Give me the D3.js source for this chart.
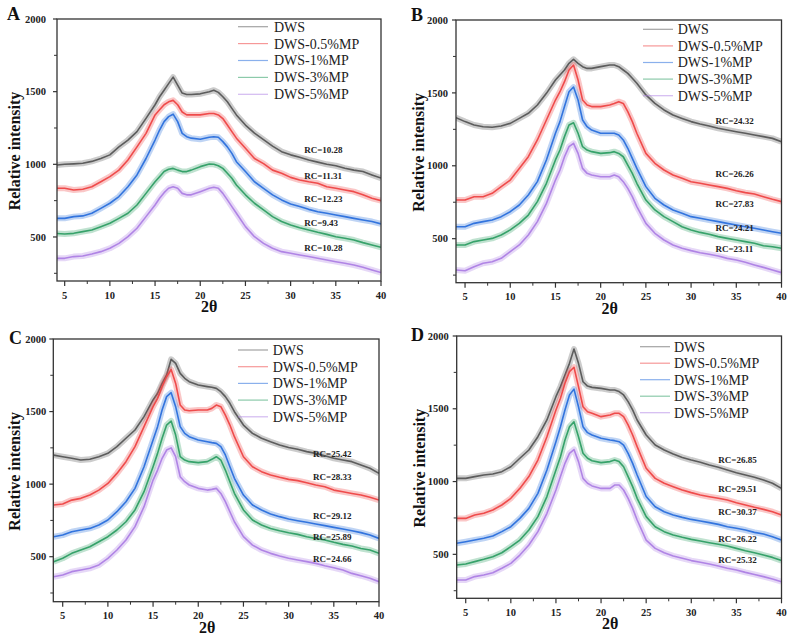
<!DOCTYPE html>
<html><head><meta charset="utf-8">
<script src="https://cdn.jsdelivr.net/npm/d3@7"></script>
<style>body{margin:0;background:#fff}svg{display:block}</style>
</head><body>
<svg id="chart" width="790" height="637"></svg>
<script>
// ---- data ----
const seriesNames = ["DWS","DWS-0.5%MP","DWS-1%MP","DWS-3%MP","DWS-5%MP"];
const seriesColors = ["#555555","#ee4444","#2a6fdc","#2e9e64","#ad7fe4"];
const twoTheta = [4,5,6,7,8,9,10,11,12,13,14,15,15.5,16,16.5,17,17.5,18,18.5,19,20,21,21.5,22,22.5,23,23.5,24,25,26,27,28,29,30,31,32,33,34,35,36,37,38,39,40];
const xTicks = [5,10,15,20,25,30,35,40];
const yTicks = [500,1000,1500,2000];

const panelA = [
 [995,1000,1003,1007,1020,1040,1065,1120,1167,1225,1316,1410,1465,1510,1555,1600,1545,1490,1480,1480,1485,1500,1510,1495,1465,1430,1385,1340,1270,1215,1170,1125,1087,1065,1048,1030,1015,1000,990,973,960,950,927,905],
 [835,835,823,828,846,880,915,960,1030,1120,1213,1340,1375,1410,1430,1440,1410,1360,1340,1340,1340,1350,1350,1340,1315,1270,1225,1180,1110,1040,1005,960,938,910,892,880,870,846,835,823,812,790,766,750],
 [628,628,640,645,663,697,732,778,846,927,1040,1167,1236,1294,1328,1345,1294,1213,1190,1180,1172,1186,1190,1186,1156,1120,1075,1018,950,880,835,790,755,727,710,690,674,663,651,640,628,617,606,590],
 [525,520,525,537,548,571,594,628,663,720,800,880,915,950,966,972,960,950,950,960,984,1002,1000,990,972,938,904,858,790,732,686,640,606,583,564,548,532,518,502,491,479,461,445,429],
 [353,353,365,369,383,399,422,456,502,560,640,720,766,805,835,846,835,800,790,790,812,835,842,835,800,755,709,663,571,502,456,422,399,388,376,365,353,342,330,319,307,291,273,255]
];
const panelB = [
 [1330,1303,1280,1268,1264,1273,1291,1325,1360,1417,1497,1588,1623,1657,1703,1730,1703,1680,1668,1668,1680,1691,1691,1680,1657,1634,1600,1566,1486,1428,1383,1348,1325,1303,1287,1273,1257,1245,1234,1223,1211,1200,1188,1165],
 [765,765,788,788,811,857,902,982,1062,1177,1314,1451,1508,1577,1657,1691,1588,1451,1417,1406,1406,1417,1428,1440,1428,1371,1303,1223,1085,1017,971,937,914,891,880,868,857,845,829,816,806,788,770,754],
 [582,582,605,617,628,651,685,731,800,891,1040,1223,1303,1406,1508,1540,1451,1314,1268,1245,1223,1223,1223,1211,1177,1120,1051,982,857,777,731,697,674,651,640,628,617,605,594,582,571,560,548,537],
 [457,457,480,491,502,525,560,605,662,754,880,1040,1108,1200,1280,1295,1223,1131,1108,1097,1085,1090,1097,1085,1062,1005,948,880,765,697,651,617,582,560,543,530,514,502,491,480,468,452,445,434],
 [285,280,308,331,342,365,411,457,525,617,742,902,971,1062,1131,1154,1085,982,948,937,925,925,937,925,891,845,788,720,605,537,491,457,434,418,404,393,381,365,354,338,320,303,285,267]
];
const panelC = [
 [1200,1189,1178,1166,1171,1189,1212,1258,1316,1373,1465,1580,1626,1694,1752,1860,1832,1763,1729,1706,1683,1672,1667,1660,1637,1603,1557,1499,1407,1350,1316,1292,1270,1253,1240,1224,1212,1196,1178,1166,1155,1132,1109,1074],
 [856,863,890,902,925,959,1005,1074,1155,1258,1396,1534,1591,1672,1740,1790,1694,1545,1511,1506,1511,1511,1522,1545,1534,1476,1407,1327,1189,1120,1086,1063,1047,1033,1024,1010,994,982,959,948,936,925,909,890],
 [638,649,672,684,695,718,753,810,879,971,1120,1304,1396,1511,1603,1630,1534,1396,1350,1327,1304,1292,1286,1281,1258,1201,1120,1040,925,856,822,795,776,760,748,737,725,714,702,691,679,666,649,626],
 [466,489,523,546,569,603,638,684,741,822,948,1120,1212,1316,1407,1435,1338,1189,1166,1155,1148,1155,1171,1189,1166,1097,1017,937,822,753,718,695,679,665,654,638,626,615,599,585,574,557,546,523],
 [362,374,397,408,420,443,489,546,615,707,845,1028,1097,1178,1235,1250,1189,1051,1017,994,971,959,964,971,936,879,810,741,638,580,546,523,505,489,477,466,454,438,424,408,385,369,351,328]
];
const panelD = [
 [1022,1022,1034,1045,1052,1068,1102,1160,1217,1308,1423,1583,1652,1732,1812,1910,1812,1686,1656,1647,1640,1629,1629,1618,1595,1549,1492,1423,1320,1251,1217,1189,1166,1148,1132,1114,1098,1079,1061,1045,1029,1011,988,953],
 [747,747,770,782,805,839,885,953,1034,1148,1308,1492,1572,1675,1755,1785,1652,1514,1480,1469,1446,1457,1469,1469,1446,1389,1320,1240,1091,1022,988,965,942,924,908,896,885,873,855,839,823,809,793,770],
 [576,587,598,610,626,656,690,747,816,919,1079,1274,1377,1492,1595,1635,1514,1377,1336,1320,1297,1285,1281,1274,1251,1194,1125,1045,897,827,793,770,754,740,729,718,706,690,679,667,651,640,621,598],
 [427,434,450,466,484,511,553,598,667,759,897,1079,1171,1285,1377,1410,1308,1194,1160,1143,1130,1137,1148,1137,1102,1034,965,885,759,690,656,633,617,603,592,580,569,557,541,525,511,495,479,457],
 [324,324,347,358,374,404,438,495,564,656,782,942,1034,1125,1194,1220,1137,1022,988,970,953,953,976,976,942,885,816,736,598,541,511,489,473,457,446,434,420,404,392,376,362,347,331,312]
];
const rcA = ["RC=10.28","RC=11.31","RC=12.23","RC=9.43","RC=10.28"];
const rcB = ["RC=24.32","RC=26.26","RC=27.83","RC=24.21","RC=23.11"];
const rcC = ["RC=25.42","RC=28.33","RC=29.12","RC=25.89","RC=24.66"];
const rcD = ["RC=26.85","RC=29.51","RC=30.37","RC=26.22","RC=25.32"];
const panelLetters = ["A","B","C","D"];

// ---- layout (positions only) ----
const layout = [
 {series:panelA, rc:rcA, l:57, r:381, t:19, b:281, xMin:4.15, yMin:197, letter:[7,20], ylabX:14, yGap:11,
  leg:{x1:238,x2:268,tx:274,y0:26.7,dy:16.9}, rcX:31.5, rcY:[1099,922,759,598,422]},
 {series:panelB, rc:rcB, l:456, r:781.5, t:20, b:282.7, xMin:4.0, yMin:198, letter:[411,21], ylabX:418, yGap:8,
  leg:{x1:643,x2:673,tx:677.7,y0:29.3,dy:16.6}, rcX:32.7, rcY:[1309,944,738,575,427]},
 {series:panelC, rc:rcC, l:53.3, r:379, t:339, b:601.7, xMin:3.96, yMin:190, letter:[9,344], ylabX:14, yGap:7,
  leg:{x1:238,x2:268,tx:272.7,y0:350,dy:16.7}, rcX:32.7, rcY:[1212,1051,780,638,482]},
 {series:panelD, rc:rcD, l:456.7, r:781.5, t:336, b:598.3, xMin:4.0, yMin:198, letter:[411,341], ylabX:419, yGap:8,
  leg:{x1:640,x2:670,tx:674,y0:346.7,dy:16.5}, rcX:33.0, rcY:[1148,953,793,603,465]}
];

const svg = d3.select("#chart");
const serif = "'Liberation Serif','Times New Roman',Times,serif";
const axisCol = "#333";

layout.forEach((p, pi) => {
  const x = d3.scaleLinear().domain([p.xMin, 40]).range([p.l, p.r]);
  const y = d3.scaleLinear().domain([p.yMin, 2000]).range([p.b, p.t]);
  const g = svg.append("g");
  const clipId = "clip" + pi;
  svg.append("clipPath").attr("id", clipId).append("rect")
    .attr("x", p.l).attr("y", p.t).attr("width", p.r - p.l).attr("height", p.b - p.t);

  const line = d3.line().x((d, i) => x(twoTheta[i])).y(d => y(d));
  const lines = g.append("g").attr("clip-path", `url(#${clipId})`);
  p.series.forEach((s, si) => {
    lines.append("path").attr("d", line(s)).attr("fill", "none")
      .attr("stroke", seriesColors[si]).attr("stroke-width", 6).attr("stroke-opacity", 0.3)
      .attr("stroke-linejoin", "round");
    lines.append("path").attr("d", line(s)).attr("fill", "none")
      .attr("stroke", seriesColors[si]).attr("stroke-width", 1.6).attr("stroke-opacity", 0.95)
      .attr("stroke-linejoin", "round");
  });

  // frame
  g.append("rect").attr("x", p.l).attr("y", p.t).attr("width", p.r - p.l).attr("height", p.b - p.t)
    .attr("fill", "none").attr("stroke", axisCol).attr("stroke-width", 1.3);

  // x axis ticks
  const xMinor = d3.range(7.5, 40, 5);
  xTicks.forEach(v => {
    g.append("line").attr("x1", x(v)).attr("x2", x(v)).attr("y1", p.b).attr("y2", p.b + 5)
      .attr("stroke", axisCol).attr("stroke-width", 1.2);
    g.append("text").attr("x", x(v)).attr("y", p.b + 17.5).attr("text-anchor", "middle")
      .attr("font-family", serif).attr("font-weight", "bold").attr("font-size", 10.5).attr("fill", "#222").text(v);
  });
  xMinor.forEach(v => {
    g.append("line").attr("x1", x(v)).attr("x2", x(v)).attr("y1", p.b).attr("y2", p.b + 3)
      .attr("stroke", axisCol).attr("stroke-width", 1);
  });
  // y axis ticks
  yTicks.forEach(v => {
    g.append("line").attr("x1", p.l - 4).attr("x2", p.l).attr("y1", y(v)).attr("y2", y(v))
      .attr("stroke", axisCol).attr("stroke-width", 1.2);
    g.append("text").attr("x", p.l - p.yGap).attr("y", y(v)).attr("dy", "0.35em").attr("text-anchor", "end")
      .attr("font-family", serif).attr("font-weight", "bold").attr("font-size", 10.5).attr("fill", "#222").text(v);
  });
  [250, 750, 1250, 1750].forEach(v => {
    g.append("line").attr("x1", p.l - 3).attr("x2", p.l).attr("y1", y(v)).attr("y2", y(v))
      .attr("stroke", axisCol).attr("stroke-width", 1);
  });

  // axis titles
  g.append("text").attr("x", x(21)).attr("y", p.b + 31).attr("text-anchor", "middle")
    .attr("font-family", serif).attr("font-weight", "bold").attr("font-size", 16).attr("fill", "#111").text("2θ");
  g.append("text").attr("transform", `translate(${p.ylabX},${(p.t + p.b) / 2 + 1}) rotate(-90)`)
    .attr("dy", "0.35em").attr("text-anchor", "middle")
    .attr("font-family", serif).attr("font-weight", "bold").attr("font-size", 16).attr("fill", "#111")
    .text("Relative intensity");

  // panel letter
  g.append("text").attr("x", p.letter[0]).attr("y", p.letter[1])
    .attr("font-family", serif).attr("font-weight", "bold").attr("font-size", 18).attr("fill", "#111")
    .text(panelLetters[pi]);

  // legend
  seriesNames.forEach((n, si) => {
    const yy = p.leg.y0 + si * p.leg.dy;
    g.append("line").attr("x1", p.leg.x1).attr("x2", p.leg.x2).attr("y1", yy).attr("y2", yy)
      .attr("stroke", seriesColors[si]).attr("stroke-width", 1.2).attr("stroke-opacity", 0.55);
    g.append("text").attr("x", p.leg.tx).attr("y", yy).attr("dy", "0.35em")
      .attr("font-family", serif).attr("font-size", 14).attr("fill", "#222").text(n);
  });

  // RC annotations
  p.rc.forEach((t, i) => {
    g.append("text").attr("x", x(p.rcX)).attr("y", y(p.rcY[i])).attr("dy", "0.35em")
      .attr("font-family", serif).attr("font-weight", "bold").attr("font-size", 9).attr("fill", "#222").text(t);
  });
});
</script>
</body></html>
